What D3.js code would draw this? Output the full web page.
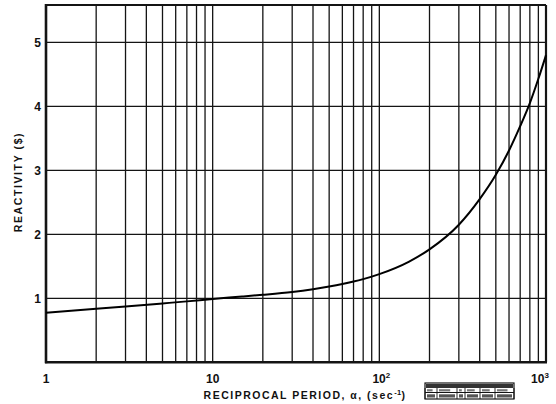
<!DOCTYPE html>
<html>
<head>
<meta charset="utf-8">
<script src="https://cdn.jsdelivr.net/npm/d3@7"></script>
<style>
  html, body { margin: 0; padding: 0; background: #fff; }
  svg { display: block; }
  text { font-family: "Liberation Sans", "DejaVu Sans", sans-serif; fill: #111; }
</style>
</head>
<body>
<svg id="chart" width="556" height="404"></svg>
<script>
// Reactivity (dollars) versus reciprocal period alpha (sec^-1)
const alpha = [1, 2, 3, 5, 7, 10, 15, 20, 30, 40, 50, 60, 70, 80, 100, 150, 200, 300, 400, 500, 600, 700, 800, 900, 1000];
const reactivity = [0.776, 0.835, 0.872, 0.92, 0.952, 0.99, 1.027, 1.055, 1.10, 1.143, 1.183, 1.222, 1.261, 1.30, 1.378, 1.57, 1.765, 2.15, 2.55, 2.93, 3.31, 3.69, 4.05, 4.43, 4.80];

const xTickValues = [1, 10, 100, 1000];
const xTickBase = ["1", "10", "10", "10"];
const xTickExp = ["", "", "2", "3"];
const yTickValues = [1, 2, 3, 4, 5];

const svg = d3.select("#chart");
const plotLeft = 46, plotRight = 546, plotTop = 5, plotBottom = 362.3;

const x = d3.scaleLog().domain([1, 1000]).range([plotLeft, plotRight]);
const y = d3.scaleLinear().domain([0, (plotBottom - plotTop) / 64]).range([plotBottom, plotTop]);

const ink = "#141414";

// minor + major vertical grid lines (2..9 within each decade)
const vLines = [];
for (let k = 0; k < 3; k++) {
  for (let m = 2; m <= 9; m++) vLines.push(m * Math.pow(10, k));
  if (k > 0) vLines.push(Math.pow(10, k));
}
svg.append("g").selectAll("line").data(vLines).join("line")
  .attr("x1", d => x(d)).attr("x2", d => x(d))
  .attr("y1", plotTop).attr("y2", plotBottom)
  .attr("stroke", ink).attr("stroke-width", 1.3);

// horizontal grid lines
svg.append("g").selectAll("line").data(yTickValues).join("line")
  .attr("x1", plotLeft).attr("x2", plotRight)
  .attr("y1", d => y(d)).attr("y2", d => y(d))
  .attr("stroke", ink).attr("stroke-width", 1.3);

// frame
svg.append("line").attr("x1", plotLeft).attr("x2", plotRight).attr("y1", plotTop).attr("y2", plotTop)
  .attr("stroke", ink).attr("stroke-width", 2);
svg.append("line").attr("x1", plotRight).attr("x2", plotRight).attr("y1", plotTop).attr("y2", plotBottom)
  .attr("stroke", ink).attr("stroke-width", 2.2);
svg.append("line").attr("x1", plotLeft).attr("x2", plotLeft).attr("y1", plotTop - 1).attr("y2", plotBottom + 1)
  .attr("stroke", ink).attr("stroke-width", 2.6);
svg.append("line").attr("x1", plotLeft - 1).attr("x2", plotRight + 1).attr("y1", plotBottom).attr("y2", plotBottom)
  .attr("stroke", ink).attr("stroke-width", 2.6);

// curve
const line = d3.line()
  .x((d, i) => x(alpha[i]))
  .y(d => y(d))
  .curve(d3.curveMonotoneX);
svg.append("path").datum(reactivity)
  .attr("d", line)
  .attr("fill", "none").attr("stroke", "#000").attr("stroke-width", 2);

// y tick labels
svg.append("g").selectAll("text").data(yTickValues).join("text")
  .attr("x", 41).attr("y", d => y(d) + 4.5)
  .attr("text-anchor", "end")
  .attr("font-size", 12).attr("font-weight", "bold")
  .text(d => d);

// x tick labels (powers of ten with raised exponents)
const xl = svg.append("g").selectAll("text").data(xTickValues).join("text")
  .attr("x", (d, i) => x(d) + (i === 3 ? -6 : (i === 2 ? 2 : 0)))
  .attr("y", 383)
  .attr("text-anchor", "middle")
  .attr("font-size", 12).attr("font-weight", "bold");
xl.append("tspan").text((d, i) => xTickBase[i]);
xl.append("tspan").attr("dy", -5).attr("font-size", 8).text((d, i) => xTickExp[i]);

// axis titles
const xt = svg.append("text")
  .attr("x", 305).attr("y", 399)
  .attr("text-anchor", "middle")
  .attr("font-size", 10.5).attr("font-weight", "bold").attr("letter-spacing", 1.5);
xt.append("tspan").text("RECIPROCAL PERIOD, α, (sec");
xt.append("tspan").attr("dy", -4).attr("font-size", 7.5).attr("letter-spacing", 0.3).text("-1");
xt.append("tspan").attr("dy", 4).text(")");

svg.append("text")
  .attr("transform", "translate(22,182) rotate(-90)")
  .attr("text-anchor", "middle")
  .attr("font-size", 10.5).attr("font-weight", "bold").attr("letter-spacing", 1.6)
  .text("REACTIVITY  ($)");

// drawing number stamp
const stamp = svg.append("g").attr("transform", "translate(425,383)");
stamp.append("rect").attr("width", 89).attr("height", 16)
  .attr("fill", "#fff").attr("stroke", ink).attr("stroke-width", 1.2);
stamp.append("rect").attr("x", 1).attr("y", 1).attr("width", 87).attr("height", 4).attr("fill", "#333");
stamp.append("line").attr("x1", 0).attr("x2", 89).attr("y1", 9.5).attr("y2", 9.5)
  .attr("stroke", ink).attr("stroke-width", 1);
const cells = [0, 12, 32, 40, 55, 70, 89];
stamp.selectAll(".c").data(cells).join("line")
  .attr("x1", d => d).attr("x2", d => d).attr("y1", 5).attr("y2", 16)
  .attr("stroke", ink).attr("stroke-width", 0.9);
stamp.selectAll(".b").data(d3.range(cells.length - 1)).join("rect")
  .attr("x", i => cells[i] + 2).attr("y", 11.3)
  .attr("width", i => cells[i + 1] - cells[i] - 4).attr("height", 3.2)
  .attr("fill", "#555");
stamp.selectAll(".m").data(d3.range(cells.length - 1)).join("rect")
  .attr("x", i => cells[i] + 2).attr("y", 6.2)
  .attr("width", i => (cells[i + 1] - cells[i] - 4) * 0.7).attr("height", 2.2)
  .attr("fill", "#777");
</script>
</body>
</html>
